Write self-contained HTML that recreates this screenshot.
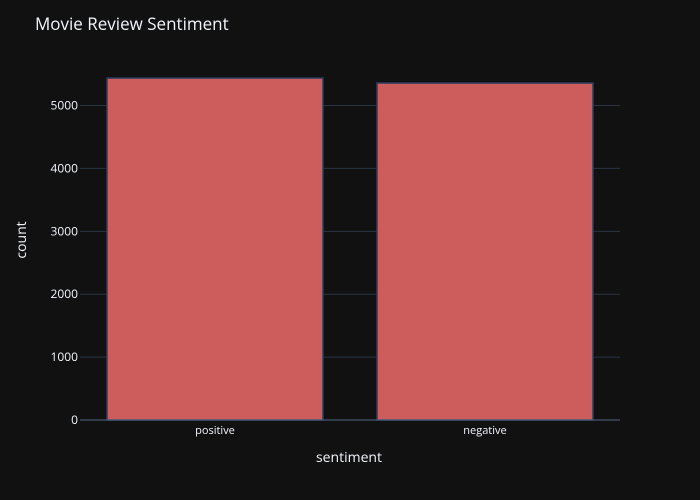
<!DOCTYPE html>
<html><head><meta charset="utf-8"><style>
body{margin:0;background:#111111;}
svg{display:block;font-family:"Open Sans","Liberation Sans",sans-serif;}
</style></head><body>
<svg id="chart" width="700" height="500">
<rect width="700" height="500" fill="#111111"/>
<text x="35" y="30" fill="#f2f5fa" font-size="17">Movie Review Sentiment</text>
<g id="grid"></g><g id="bars"></g><g id="axes"></g>
<text x="349" y="462" fill="#f2f5fa" font-size="14" text-anchor="middle">sentiment</text>
<text transform="translate(26,240) rotate(-90)" fill="#f2f5fa" font-size="14" text-anchor="middle">count</text>
</svg>
<script>
const categories=["positive","negative"];
const counts=[5437,5358];
const yTicks=[0,1000,2000,3000,4000,5000];
const L=80,R=620,T=60,B=420,yMax=5724;
const ns="http://www.w3.org/2000/svg";
const y=v=>B-(v/yMax)*(B-T);
const band=(R-L)/categories.length;
const x=i=>L+band*i+band/2;
const grid=document.getElementById('grid'),bars=document.getElementById('bars'),axes=document.getElementById('axes');
function mk(tag,attrs,parent){const e=document.createElementNS(ns,tag);for(const k in attrs)e.setAttribute(k,attrs[k]);parent.appendChild(e);return e;}
yTicks.forEach(t=>{
  if(t>0){const g=mk('line',{x1:L,x2:R,y1:y(t),y2:y(t),stroke:'#283442','stroke-width':1},grid);
  
  }
  const tx=mk('text',{x:L-2,y:y(t)+4,fill:'#f2f5fa','font-size':12,'text-anchor':'end'},axes);
  tx.textContent=t;
  
  
});
const zl=mk('line',{x1:L,x2:R,y1:B,y2:B,stroke:'#506784','stroke-width':1},axes);


const bw=band*0.8;
categories.forEach((c,i)=>{
  const r=mk('rect',{x:x(i)-bw/2,y:y(counts[i]),width:bw,height:B-y(counts[i]),fill:'#cd5c5c',stroke:'#2a3f5f','stroke-width':1.5},bars);
  
  
  const tx=mk('text',{x:x(i),y:B+14,fill:'#f2f5fa','font-size':11,'text-anchor':'middle'},axes);
  tx.textContent=c;
  
  
});
</script>
</body></html>
